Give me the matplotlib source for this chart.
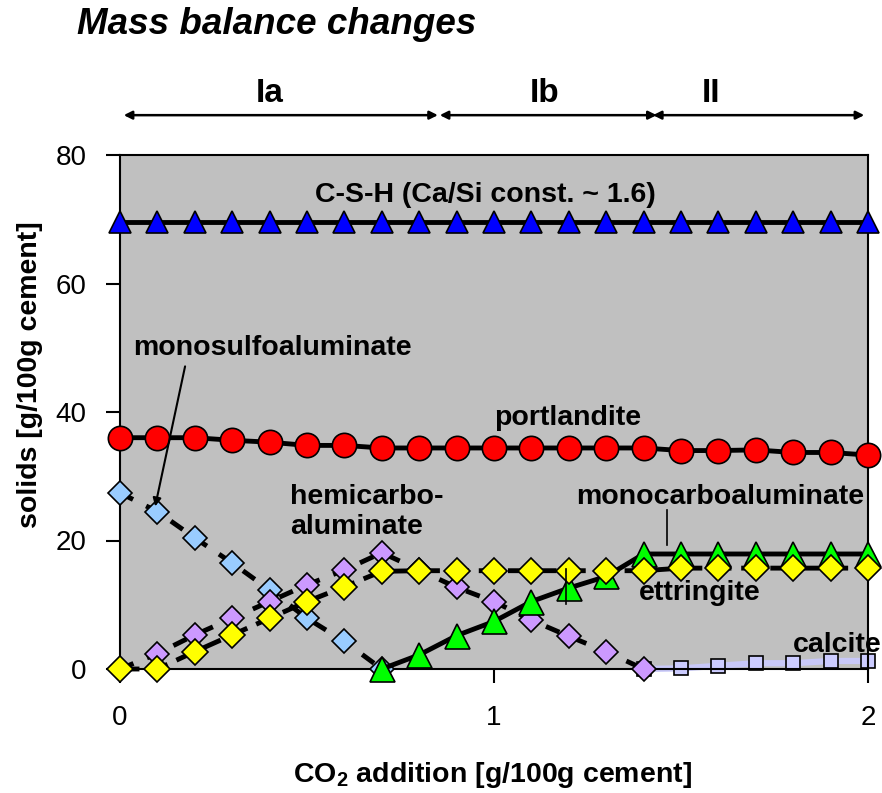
import matplotlib
matplotlib.use('Agg')
import matplotlib.pyplot as plt

plt.rcParams['font.family'] = ['Liberation Sans', 'DejaVu Sans']
plt.rcParams['mathtext.fontset'] = 'custom'
plt.rcParams['mathtext.rm'] = 'Liberation Sans'
plt.rcParams['mathtext.bf'] = 'Liberation Sans:bold'

# CO2 addition [g/100g cement]
co2 = [0.0, 0.1, 0.2, 0.3, 0.4, 0.5, 0.6, 0.7, 0.8, 0.9, 1.0,
       1.1, 1.2, 1.3, 1.4, 1.5, 1.6, 1.7, 1.8, 1.9, 2.0]

# solids [g/100g cement]
csh = [69.5, 69.5, 69.5, 69.5, 69.5, 69.5, 69.5, 69.5, 69.5, 69.5, 69.5,
       69.5, 69.5, 69.5, 69.5, 69.5, 69.5, 69.5, 69.5, 69.5, 69.5]
portlandite = [36.0, 36.0, 36.0, 35.6, 35.3, 34.8, 34.8, 34.4, 34.4, 34.4, 34.4,
               34.4, 34.4, 34.4, 34.4, 34.0, 34.0, 34.1, 33.7, 33.7, 33.3]
monosulfo_x = co2[:8]
monosulfo = [27.4, 24.5, 20.4, 16.5, 12.3, 7.9, 4.3, 0.0]
hemicarbo_x = co2[:15]
hemicarbo = [0.0, 2.4, 5.3, 7.9, 10.5, 13.1, 15.4, 18.1, 15.4, 12.7, 10.5,
             7.6, 5.1, 2.7, 0.0]
ettringite = [0.0, 0.0, 2.7, 5.3, 7.9, 10.5, 12.8, 15.2, 15.3, 15.3, 15.3,
              15.3, 15.3, 15.3, 15.3, 15.7, 15.7, 15.7, 15.7, 15.7, 15.7]
monocarbo_x = co2[7:]
monocarbo = [0.0, 2.2, 5.2, 7.4, 10.5, 12.6, 14.4, 17.9, 17.9, 17.9, 17.9,
             17.9, 17.9, 17.9]
calcite_x = co2[14:]
calcite = [0.0, 0.1, 0.5, 0.9, 0.9, 1.25, 1.25]

# stage boundaries along the x axis
stages = ['Ia', 'Ib', 'II']
stage_bounds = [(0.01, 0.85), (0.855, 1.435), (1.425, 1.99)]
stage_label_x = [0.40, 1.136, 1.58]

fig = plt.figure(figsize=(8.82, 7.93), dpi=100)
ax = fig.add_axes([120 / 882, 1 - 669 / 793, 748 / 882, 514 / 793])
ax.set_facecolor('#c0c0c0')

mk = dict(markeredgecolor='black', markeredgewidth=1.2, clip_on=False)

ax.plot(calcite_x, calcite, color='#c8c8f8', lw=4.5, marker='s', ms=9.5,
        markerfacecolor='#ccccff', zorder=2, **mk)
ax.plot(monosulfo_x, monosulfo, color='black', lw=3.5, ls=(0, (3, 3)),
        marker='D', ms=12.5, markerfacecolor='#99ccff', zorder=3, **mk)
ax.plot(hemicarbo_x, hemicarbo, color='black', lw=3.5, ls=(0, (3, 3)),
        marker='D', ms=12.5, markerfacecolor='#cc99ff', zorder=4, **mk)
ax.plot(monocarbo_x, monocarbo, color='black', lw=3.5,
        marker='^', ms=18, markerfacecolor='#00ff00', zorder=5, **mk)
ax.plot(co2, ettringite, color='black', lw=3.5, ls=(0, (4, 2)),
        marker='D', ms=13, markerfacecolor='#ffff00', zorder=6, **mk)
ax.plot(co2, portlandite, color='black', lw=3.5,
        marker='o', ms=17.5, markerfacecolor='#ff0000', zorder=7, **mk)
ax.plot(co2, csh, color='black', lw=3.5,
        marker='^', ms=16, markerfacecolor='#0000ff', zorder=7, **mk)

ax.set_xlim(0, 2)
ax.set_ylim(0, 80)
ax.set_xticks([0, 1, 2])
ax.set_yticks([0, 20, 40, 60, 80])
ax.tick_params(axis='both', direction='out', length=10, width=1.5,
               labelsize=20)
ax.tick_params(axis='x', pad=16)
ax.tick_params(axis='y', pad=14)
for s in ax.spines.values():
    s.set_linewidth(1.5)

lab = dict(fontsize=20.5, fontweight='bold', zorder=10, clip_on=False)
ax.text(0.978, 73.7, 'C-S-H (Ca/Si const. ~ 1.6)', ha='center', va='center', **lab)
ax.text(0.035, 50.0, 'monosulfoaluminate', ha='left', va='center', **lab)
ax.text(0.999, 39.0, 'portlandite', ha='left', va='center', **lab)
ax.text(0.455, 24.5, 'hemicarbo-\naluminate', ha='left', va='center', **lab)
ax.text(1.219, 26.7, 'monocarboaluminate', ha='left', va='center', **lab)
ax.text(1.387, 11.8, 'ettringite', ha='left', va='center', **lab)
ax.text(1.80, 3.7, 'calcite', ha='left', va='center', **lab)

ax.annotate('', xy=(0.094, 25.3), xytext=(0.174, 47.1),
            arrowprops=dict(arrowstyle='-|>', color='black', lw=1.5,
                            mutation_scale=12, shrinkA=0, shrinkB=0),
            zorder=10)
ax.plot([1.463, 1.463], [24.8, 19.3], color='black', lw=1.2, zorder=10)
ax.plot([1.192, 1.192], [15.5, 10.1], color='black', lw=1.2, zorder=10)

for name, (x0, x1), lx in zip(stages, stage_bounds, stage_label_x):
    ax.annotate('', xy=(x1, 86.2), xytext=(x0, 86.2), annotation_clip=False,
                arrowprops=dict(arrowstyle='<|-|>', color='black', lw=1.8,
                                mutation_scale=12, shrinkA=0, shrinkB=0))
    ax.text(lx, 89.5, name, ha='center', va='center', fontsize=24,
            fontweight='bold', clip_on=False)

fig.text(77 / 882, 1 - 25 / 793, 'Mass balance changes', ha='left',
         va='center', fontsize=26.5, fontweight='bold', fontstyle='italic')
fig.text(30 / 882, 1 - 375 / 793, 'solids [g/100g cement]', rotation=90,
         ha='center', va='center', fontsize=20.5, fontweight='bold')
fig.text(492 / 882, 1 - 775 / 793, r'CO$_\mathbf{2}$ addition [g/100g cement]',
         ha='center', va='center', fontsize=20.5, fontweight='bold')

fig.savefig('out.png', dpi=100)
